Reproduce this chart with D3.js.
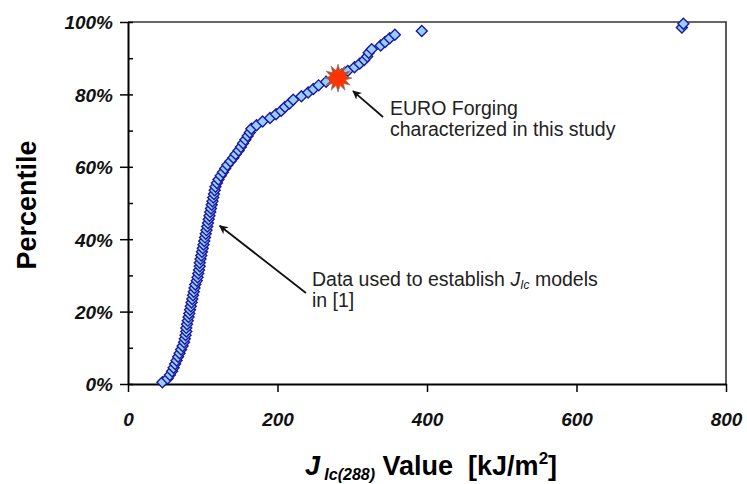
<!DOCTYPE html>
<html>
<head>
<meta charset="utf-8">
<script src="https://cdn.jsdelivr.net/npm/d3@7"></script>
<style>
  body { margin: 0; background: #fff; }
  svg text { font-family: Arial, "Liberation Sans", sans-serif; }
</style>
</head>
<body>
<div id="chart"></div>
<script>
// J_Ic(288) values [kJ/m2], sorted, with their percentile ranks
var jValues = [46, 53, 56, 59, 61, 63, 65, 67, 69, 71,
               73, 75, 76, 77, 78, 78, 79, 80, 81, 82,
               83, 84, 85, 86, 87, 88, 89, 90, 92, 93,
               94, 95, 96, 96, 97, 98, 99, 100, 101, 102,
               103, 104, 105, 106, 107, 108, 109, 110, 111, 112,
               113, 114, 115, 116, 117, 119, 121, 124, 127, 130,
               133, 137, 141, 144, 148, 151, 154, 157, 160, 163,
               165, 172, 180, 190, 198, 205, 210, 216, 221, 232,
               241, 248, 255, 265, 276, 286, 294, 303, 310, 316,
               320, 322, 326, 338, 344, 350, 357, 393, 741, 743];
var percentiles = [0.5, 1.5, 2.5, 3.5, 4.5, 5.5, 6.5, 7.5, 8.5, 9.5,
                   10.5, 11.5, 12.5, 13.5, 14.5, 15.5, 16.5, 17.5, 18.5, 19.5,
                   20.5, 21.5, 22.5, 23.5, 24.5, 25.5, 26.5, 27.5, 28.5, 29.5,
                   30.5, 31.5, 32.5, 33.5, 34.5, 35.5, 36.5, 37.5, 38.5, 39.5,
                   40.5, 41.5, 42.5, 43.5, 44.5, 45.5, 46.5, 47.5, 48.5, 49.5,
                   50.5, 51.5, 52.5, 53.5, 54.5, 55.5, 56.5, 57.5, 58.5, 59.5,
                   60.5, 61.5, 62.5, 63.5, 64.5, 65.5, 66.5, 67.5, 68.5, 69.5,
                   70.5, 71.5, 72.5, 73.5, 74.5, 75.5, 76.5, 77.5, 78.5, 79.5,
                   80.5, 81.5, 82.5, 83.5, 84.5, 85.5, 86.5, 87.5, 88.5, 89.5,
                   90.5, 91.5, 92.5, 93.5, 94.5, 95.5, 96.5, 97.5, 98.5, 99.5];

// EURO forging characterized in this study
var euroJ = 281;
var euroPct = 84.5;

var xTicks = [0, 200, 400, 600, 800];
var yTicks = [0, 20, 40, 60, 80, 100];
var yMinorTicks = [0, 10, 20, 30, 40, 50, 60, 70, 80, 90, 100];

function init() {
    var w = 747;
    var h = 484;
    var margin = {left: 128, top: 22, right: 21, bottom: 100};

    var x = d3.scaleLinear().domain([0, 800]).range([margin.left, w - margin.right]);
    var y = d3.scaleLinear().domain([0, 100]).range([h - margin.bottom, margin.top]);

    var svg = d3.select("#chart")
                .append("svg")
                .attr("width", w)
                .attr("height", h);

    // plot frame (top and right)
    svg.append("path")
       .attr("d", "M" + x(0) + "," + y(100) + "H" + x(800) + "V" + y(0))
       .attr("fill", "none")
       .attr("stroke", "#333")
       .attr("stroke-width", 1.6);

    // x axis
    var xAxis = svg.append("g")
       .attr("transform", "translate(0," + y(0) + ")")
       .call(d3.axisBottom(x).tickValues(xTicks).tickSize(8).tickSizeOuter(0));
    xAxis.select(".domain").attr("stroke", "#000").attr("stroke-width", 2);
    xAxis.selectAll(".tick line").attr("stroke", "#000").attr("stroke-width", 1.5);
    xAxis.selectAll(".tick text")
         .attr("dy", 0)
         .attr("y", 42)
         .style("font-size", "19px")
         .style("font-weight", "bold")
         .style("font-style", "italic")
         .attr("fill", "#111");

    // y axis
    var yAxis = svg.append("g")
       .attr("transform", "translate(" + x(0) + ",0)")
       .call(d3.axisLeft(y).tickValues(yTicks).tickSize(8).tickSizeOuter(0)
               .tickFormat(function(d) { return d + "%"; }));
    yAxis.select(".domain").attr("stroke", "#000").attr("stroke-width", 2);
    yAxis.selectAll(".tick line").attr("stroke", "#000").attr("stroke-width", 1.5);
    yAxis.selectAll(".tick text")
         .attr("x", -15)
         .attr("dy", "0.36em")
         .style("font-size", "19px")
         .style("font-weight", "bold")
         .style("font-style", "italic")
         .attr("fill", "#111");

    // minor ticks inside
    var yMinor = svg.append("g")
       .attr("transform", "translate(" + x(0) + ",0)")
       .call(d3.axisRight(y).tickValues(yMinorTicks).tickSize(5).tickFormat(""));
    yMinor.select(".domain").remove();
    yMinor.selectAll(".tick line").attr("stroke", "#000").attr("stroke-width", 1.5);

    // axis titles
    svg.append("text")
       .attr("transform", "translate(36," + (y(50) + 2) + ") rotate(-90)")
       .attr("text-anchor", "middle")
       .style("font-size", "27px")
       .style("font-weight", "bold")
       .text("Percentile");

    var xt = svg.append("text")
       .attr("x", 431)
       .attr("y", 475)
       .attr("text-anchor", "middle")
       .style("font-size", "27px")
       .style("font-weight", "bold");
    xt.append("tspan").style("font-style", "italic").text("J");
    xt.append("tspan").attr("dy", 5).style("font-size", "16px").style("font-style", "italic").text("\u00a0Ic(288)");
    xt.append("tspan").attr("dy", -5).text("\u00a0Value\u00a0\u00a0[kJ/m");
    xt.append("tspan").attr("dy", -11).style("font-size", "17px").text("2");
    xt.append("tspan").attr("dy", 11).text("]");

    // data points
    var points = jValues.map(function(v, i) { return {j: v, p: percentiles[i]}; });
    var diamond = d3.symbol().type(d3.symbolSquare).size(60);

    svg.append("g")
       .selectAll("path")
       .data(points)
       .enter()
       .append("path")
       .attr("d", diamond)
       .attr("transform", function(d) {
           return "translate(" + x(d.j) + "," + y(d.p) + ") rotate(45)";
       })
       .attr("fill", "#99ccff")
       .attr("stroke", "#1a1a9a")
       .attr("stroke-width", 1.4);

    // EURO forging marker: spiky star with red dot
    var cx = x(euroJ), cy = y(euroPct);
    var starPts = [];
    var nSpikes = 12;
    for (var k = 0; k < nSpikes * 2; k++) {
        var r = (k % 2 === 0) ? 14 : 7.5;
        var a = Math.PI * k / nSpikes - Math.PI / 2;
        starPts.push([cx + r * Math.cos(a), cy + r * Math.sin(a)]);
    }
    svg.append("path")
       .attr("d", d3.line()(starPts) + "Z")
       .attr("fill", "#d83a10")
       .attr("stroke", "#8a7a70")
       .attr("stroke-width", 0.7);
    svg.append("circle")
       .attr("cx", cx)
       .attr("cy", cy)
       .attr("r", 8)
       .attr("fill", "#ff3300");

    // arrows
    svg.append("defs").append("marker")
       .attr("id", "arrow")
       .attr("viewBox", "0 0 10 10")
       .attr("refX", 9)
       .attr("refY", 5)
       .attr("markerWidth", 9)
       .attr("markerHeight", 9)
       .attr("markerUnits", "userSpaceOnUse")
       .attr("orient", "auto")
       .append("path")
       .attr("d", "M0,0L10,5L0,10L3,5Z")
       .attr("fill", "#111");

    // placed relative to the marked points
    var arrows = [
        {x1: 383, y1: 117, x2: cx + 15, y2: cy + 13},
        {x1: 306, y1: 293, x2: x(112) + 8, y2: y(44) + 1}
    ];
    svg.selectAll("line.arrow")
       .data(arrows)
       .enter()
       .append("line")
       .attr("class", "arrow")
       .attr("x1", function(d) { return d.x1; })
       .attr("y1", function(d) { return d.y1; })
       .attr("x2", function(d) { return d.x2; })
       .attr("y2", function(d) { return d.y2; })
       .attr("stroke", "#111")
       .attr("stroke-width", 1.8)
       .attr("marker-end", "url(#arrow)");

    // annotation texts
    var note1 = svg.append("text")
       .attr("x", 390)
       .attr("y", 115)
       .style("font-size", "19.5px")
       .attr("fill", "#222");
    note1.append("tspan").text("EURO Forging");
    note1.append("tspan").attr("x", 390).attr("dy", 20.5).text("characterized in this study");

    var note2 = svg.append("text")
       .attr("x", 312)
       .attr("y", 286)
       .style("font-size", "19.5px")
       .attr("fill", "#222");
    note2.append("tspan").text("Data used to establish ");
    note2.append("tspan").style("font-style", "italic").text("J");
    note2.append("tspan").attr("dy", 3).style("font-size", "12px").style("font-style", "italic").text("Ic");
    note2.append("tspan").attr("dy", -3).text(" models");
    note2.append("tspan").attr("x", 312).attr("dy", 20.5).text("in [1]");
}

window.onload = init;
</script>
</body>
</html>
